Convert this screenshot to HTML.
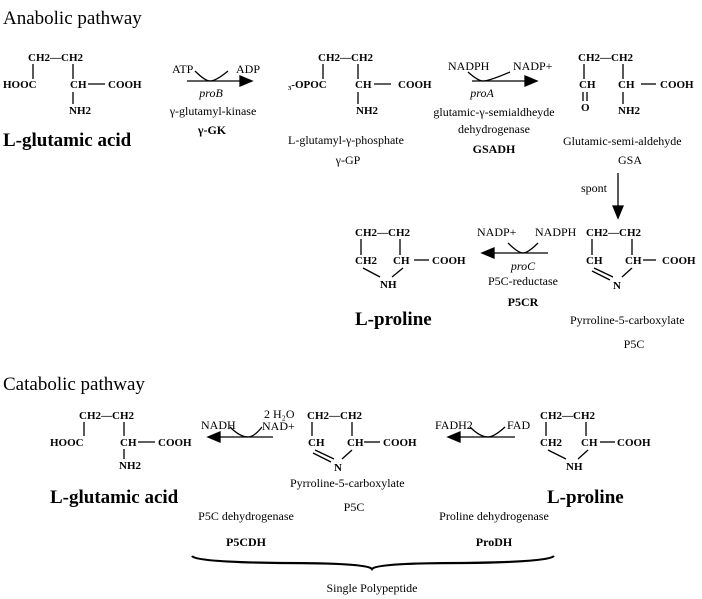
<!DOCTYPE html>
<html><head><meta charset="utf-8"><style>
html,body{margin:0;padding:0;background:#fff;}
svg{display:block;font-family:"Liberation Serif",serif;}
.c{font-size:11px;font-weight:bold;}
.l{font-size:12px;}
.n{font-size:19px;font-weight:bold;}
.t{font-size:19px;}
.b{font-size:12px;font-weight:bold;}
.i{font-size:12px;font-style:italic;}
line,path{stroke:#000;stroke-width:1.3;fill:none;}
</style></head><body>
<svg width="702" height="599" viewBox="0 0 702 599">
<text x="3" y="24" class="t">Anabolic pathway</text>

<g>
<text x="28" y="61" class="c">CH2—CH2</text>
<line x1="33" y1="64" x2="33" y2="79"/><line x1="73" y1="64" x2="73" y2="79"/>
<text x="3" y="88" class="c">HOOC</text>
<text x="70" y="88" class="c">CH</text><line x1="88" y1="84" x2="105" y2="84"/>
<text x="108" y="88" class="c">COOH</text>
<line x1="73" y1="92" x2="73" y2="104"/>
<text x="69" y="114" class="c">NH2</text>
<text x="3" y="146" class="n">L-glutamic acid</text>
</g>

<g>
<text x="172" y="73" class="l" font-size="11">ATP</text><text x="236" y="73" class="l" font-size="11">ADP</text>
<path d="M195,71 Q205,81 210,81 Q216,81 228,71"/>
<line x1="187" y1="81" x2="242" y2="81"/><path d="M240,76 L252,81 L240,86 Z" style="fill:#000"/>
<text x="211" y="97" class="i" text-anchor="middle">proB</text>
<text x="213" y="115" class="l" text-anchor="middle">γ-glutamyl-kinase</text>
<text x="212" y="134" class="b" text-anchor="middle">γ-GK</text>
</g>

<g>
<text x="318" y="61" class="c">CH2—CH2</text>
<line x1="323" y1="64" x2="323" y2="79"/><line x1="358" y1="64" x2="358" y2="79"/>
<text x="288" y="88" class="c">₃-OPOC</text>
<text x="355" y="88" class="c">CH</text><line x1="374" y1="84" x2="391" y2="84"/>
<text x="398" y="88" class="c">COOH</text>
<line x1="358" y1="92" x2="358" y2="104"/>
<text x="356" y="114" class="c">NH2</text>
<text x="288" y="144" class="l">L-glutamyl-γ-phosphate</text>
<text x="348" y="164" class="l" text-anchor="middle">γ-GP</text>
</g>

<g>
<text x="448" y="70" class="l" font-size="11">NADPH</text><text x="513" y="70" class="l" font-size="11">NADP+</text>
<path d="M468,72 Q478,81 483,81 Q489,81 510,72"/>
<line x1="472" y1="81" x2="527" y2="81"/><path d="M525,76 L537,81 L525,86 Z" style="fill:#000"/>
<text x="482" y="97" class="i" text-anchor="middle">proA</text>
<text x="494" y="116" class="l" text-anchor="middle">glutamic-γ-semialdheyde</text>
<text x="494" y="133" class="l" text-anchor="middle">dehydrogenase</text>
<text x="494" y="153" class="b" text-anchor="middle">GSADH</text>
</g>

<g>
<text x="578" y="61" class="c">CH2—CH2</text>
<line x1="584" y1="64" x2="584" y2="79"/><line x1="623" y1="64" x2="623" y2="79"/>
<text x="579" y="88" class="c">CH</text>
<line x1="583" y1="92" x2="583" y2="101"/><line x1="587" y1="92" x2="587" y2="101"/>
<text x="581" y="111" class="c">O</text>
<text x="618" y="88" class="c">CH</text><line x1="641" y1="84" x2="656" y2="84"/>
<text x="660" y="88" class="c">COOH</text>
<line x1="623" y1="92" x2="623" y2="104"/>
<text x="618" y="114" class="c">NH2</text>
<text x="563" y="145" class="l">Glutamic-semi-aldehyde</text>
<text x="630" y="164" class="l" text-anchor="middle">GSA</text>
<text x="581" y="192" class="l">spont</text>
<line x1="618" y1="173" x2="618" y2="208"/><path d="M613,206 L618,218 L623,206 Z" style="fill:#000"/>
</g>

<g>
<text x="355" y="236" class="c">CH2—CH2</text>
<line x1="361" y1="239" x2="361" y2="255"/><line x1="400" y1="239" x2="400" y2="255"/>
<text x="355" y="264" class="c">CH2</text><text x="393" y="264" class="c">CH</text>
<line x1="414" y1="260" x2="429" y2="260"/><text x="432" y="264" class="c">COOH</text>
<line x1="363" y1="268" x2="380" y2="277"/><line x1="403" y1="268" x2="392" y2="277"/>
<text x="380" y="288" class="c">NH</text>
<text x="355" y="325" class="n">L-proline</text>
</g>

<g>
<text x="477" y="236" class="l" font-size="11">NADP+</text><text x="535" y="236" class="l" font-size="11">NADPH</text>
<path d="M508,243 Q518,253 523,253 Q528,253 538,243"/>
<line x1="490" y1="253" x2="548" y2="253"/><path d="M494,248 L482,253 L494,258 Z" style="fill:#000"/>
<text x="523" y="270" class="i" text-anchor="middle">proC</text>
<text x="523" y="285" class="l" text-anchor="middle">P5C-reductase</text>
<text x="523" y="306" class="b" text-anchor="middle">P5CR</text>
</g>

<g>
<text x="586" y="236" class="c">CH2—CH2</text>
<line x1="592" y1="239" x2="592" y2="255"/><line x1="632" y1="239" x2="632" y2="255"/>
<text x="586" y="264" class="c">CH</text><text x="625" y="264" class="c">CH</text>
<line x1="643" y1="260" x2="656" y2="260"/><text x="662" y="264" class="c">COOH</text>
<line x1="594" y1="268" x2="613" y2="277"/><line x1="592" y1="271" x2="610" y2="280"/>
<line x1="632" y1="268" x2="622" y2="277"/>
<text x="613" y="289" class="c">N</text>
<text x="570" y="324" class="l">Pyrroline-5-carboxylate</text>
<text x="634" y="348" class="l" text-anchor="middle">P5C</text>
</g>

<text x="3" y="390" class="t">Catabolic pathway</text>

<g>
<text x="79" y="419" class="c">CH2—CH2</text>
<line x1="84" y1="422" x2="84" y2="436"/><line x1="124" y1="422" x2="124" y2="436"/>
<text x="50" y="446" class="c">HOOC</text>
<text x="120" y="446" class="c">CH</text><line x1="138" y1="442" x2="155" y2="442"/>
<text x="158" y="446" class="c">COOH</text>
<line x1="124" y1="449" x2="124" y2="459"/>
<text x="119" y="469" class="c">NH2</text>
<text x="50" y="503" class="n">L-glutamic acid</text>
</g>

<g>
<text x="201" y="429" class="l" font-size="11">NADH</text>
<text x="264" y="418" class="l" font-size="10">2 H₂O</text>
<text x="262" y="430" class="l" font-size="11">NAD+</text>
<path d="M230,427 Q240,437 248,437 Q254,437 262,427"/>
<line x1="217" y1="437" x2="273" y2="437"/><path d="M220,432 L208,437 L220,442 Z" style="fill:#000"/>
<text x="246" y="520" class="l" text-anchor="middle">P5C dehydrogenase</text>
<text x="246" y="546" class="b" text-anchor="middle">P5CDH</text>
</g>

<g>
<text x="307" y="419" class="c">CH2—CH2</text>
<line x1="312" y1="422" x2="312" y2="436"/><line x1="352" y1="422" x2="352" y2="436"/>
<text x="308" y="446" class="c">CH</text><text x="347" y="446" class="c">CH</text>
<line x1="364" y1="442" x2="380" y2="442"/><text x="383" y="446" class="c">COOH</text>
<line x1="315" y1="450" x2="334" y2="459"/><line x1="313" y1="453" x2="331" y2="462"/>
<line x1="352" y1="450" x2="342" y2="459"/>
<text x="334" y="471" class="c">N</text>
<text x="290" y="487" class="l">Pyrroline-5-carboxylate</text>
<text x="354" y="511" class="l" text-anchor="middle">P5C</text>
</g>

<g>
<text x="435" y="429" class="l" font-size="11">FADH2</text>
<text x="507" y="429" class="l" font-size="11">FAD</text>
<path d="M470,427 Q480,437 488,437 Q494,437 505,427"/>
<line x1="457" y1="437" x2="515" y2="437"/><path d="M460,432 L448,437 L460,442 Z" style="fill:#000"/>
<text x="494" y="520" class="l" text-anchor="middle">Proline dehydrogenase</text>
<text x="494" y="546" class="b" text-anchor="middle">ProDH</text>
</g>

<g>
<text x="540" y="419" class="c">CH2—CH2</text>
<line x1="546" y1="422" x2="546" y2="436"/><line x1="586" y1="422" x2="586" y2="436"/>
<text x="540" y="446" class="c">CH2</text><text x="581" y="446" class="c">CH</text>
<line x1="600" y1="442" x2="615" y2="442"/><text x="617" y="446" class="c">COOH</text>
<line x1="548" y1="450" x2="566" y2="459"/><line x1="588" y1="450" x2="578" y2="459"/>
<text x="566" y="470" class="c">NH</text>
<text x="547" y="503" class="n">L-proline</text>
</g>

<g>
<path d="M192,556 Q196,562 280,563 Q368,563 372,569 Q376,563 464,563 Q548,562 554,556" style="stroke-width:2.2"/>
<text x="372" y="592" class="l" text-anchor="middle">Single Polypeptide</text>
</g>
</svg>
</body></html>
